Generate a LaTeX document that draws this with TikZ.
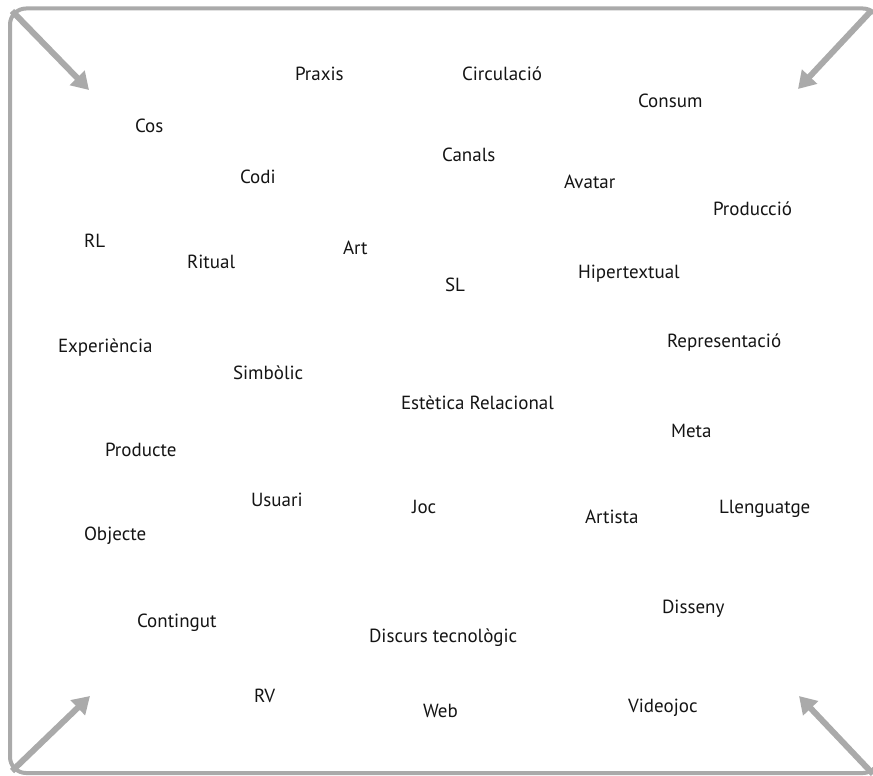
\documentclass[tikz,border=0pt]{standalone}
\usepackage{fontspec}
\setmainfont{PT Sans}
\usetikzlibrary{arrows.meta}
\definecolor{framegray}{RGB}{170,170,170}
\definecolor{textgray}{RGB}{20,20,20}
\tikzset{
  word/.style={anchor=base west, inner sep=0pt, outer sep=0pt, text=textgray, font=\fontsize{19}{21}\selectfont},
  frame/.style={draw=framegray, line width=4pt, rounded corners=16pt},
  bigarrow/.style={draw=framegray, line width=6pt, -{Triangle[width=20pt,length=17pt]}}
}
\begin{document}
\begin{tikzpicture}[x=1pt,y=-1pt]
\useasboundingbox (0,0) rectangle (873,776);
\clip (0,0) rectangle (873,776);
\draw[frame] (10,8.5) rectangle (879,773);
% arrows
\coordinate (tlA) at (12,11);  \coordinate (tlB) at (89,90);
\coordinate (trA) at (871,11); \coordinate (trB) at (798,89);
\coordinate (blA) at (12,771); \coordinate (blB) at (90,696);
\coordinate (brA) at (873,774); \coordinate (brB) at (799,696);
\draw[bigarrow] (tlA) -- (tlB);
\draw[bigarrow] (trA) -- (trB);
\draw[bigarrow] (blA) -- (blB);
\draw[bigarrow] (brA) -- (brB);
% words
\node[word] (praxis) at (295,81) {Praxis};
\node[word] (circulacio) at (462,81) {Circulació};
\node[word] (consum) at (638,107) {Consum};
\node[word] (cos) at (135,132) {Cos};
\node[word] (canals) at (442,161) {Canals};
\node[word] (codi) at (240,183) {Codi};
\node[word] (avatar) at (564,188) {Avatar};
\node[word] (produccio) at (713,215) {Producció};
\node[word] (rl) at (84,247) {RL};
\node[word] (ritual) at (187,268) {Ritual};
\node[word] (art) at (343,254) {Art};
\node[word] (sl) at (445,291) {SL};
\node[word] (hipertextual) at (578,278) {Hipertextual};
\node[word] (experiencia) at (58,352) {Experiència};
\node[word] (representacio) at (667,347) {Representació};
\node[word] (simbolic) at (233,379) {Simbòlic};
\node[word] (estetica) at (401,409) {Estètica Relacional};
\node[word] (meta) at (671,437) {Meta};
\node[word] (producte) at (105,456) {Producte};
\node[word] (usuari) at (251,506) {Usuari};
\node[word] (joc) at (412,513) {Joc};
\node[word] (artista) at (585,523) {Artista};
\node[word] (llenguatge) at (719,513) {Llenguatge};
\node[word] (objecte) at (84,540) {Objecte};
\node[word] (contingut) at (137,627) {Contingut};
\node[word] (disseny) at (662,613) {Disseny};
\node[word] (discurs) at (369,642) {Discurs tecnològic};
\node[word] (rv) at (254,702) {RV};
\node[word] (web) at (423,717) {Web};
\node[word] (videojoc) at (628,712) {Videojoc};
\end{tikzpicture}
\end{document}
